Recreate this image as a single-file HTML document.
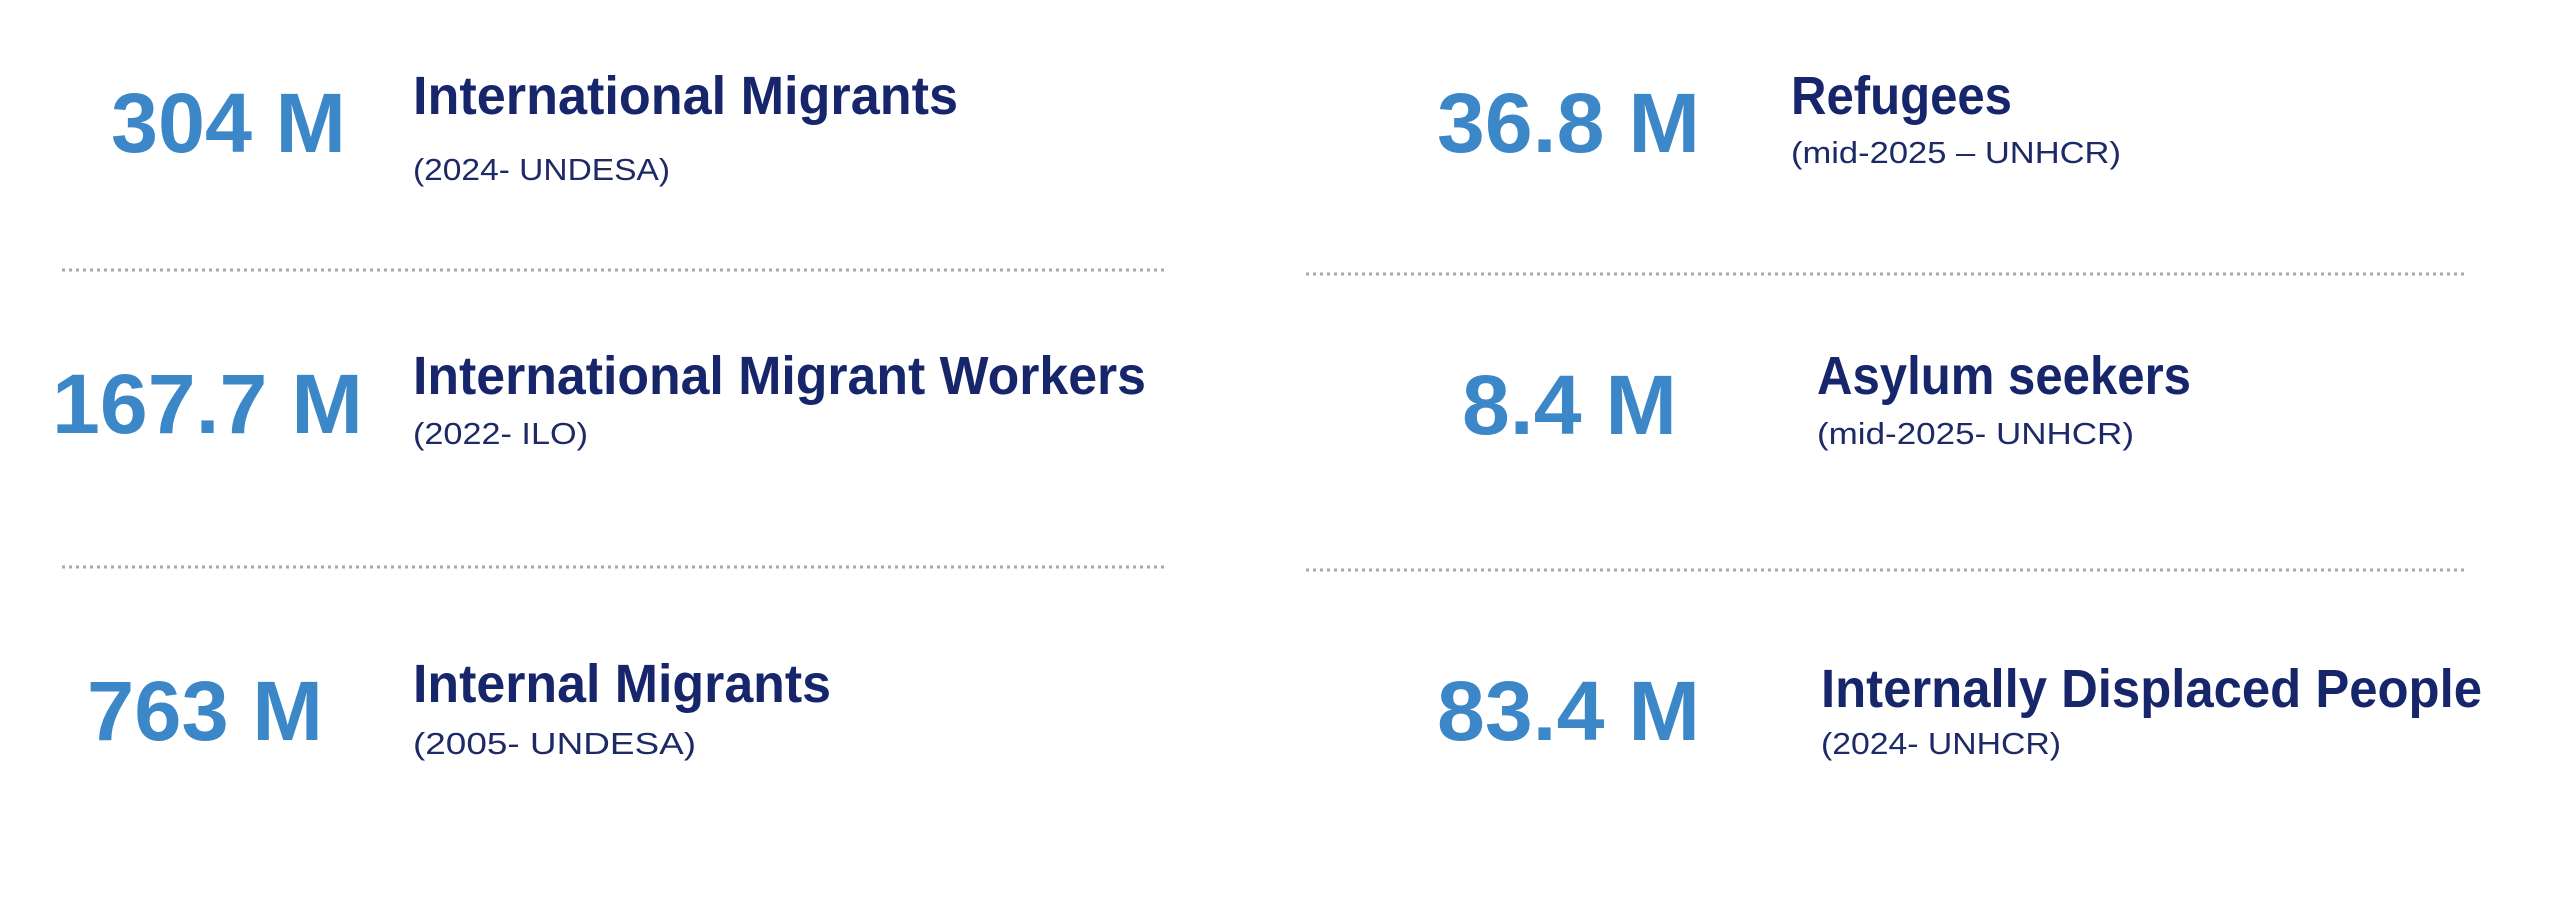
<!DOCTYPE html>
<html><head><meta charset="utf-8"><style>
html,body{margin:0;padding:0;background:#fff;width:2560px;height:921px;overflow:hidden}
svg{display:block}
.n{font-family:"Liberation Sans",sans-serif;font-weight:bold;font-size:84px;fill:#3b87c7}
.t{font-family:"Liberation Sans",sans-serif;font-weight:bold;font-size:54px;fill:#17266b}
.s{font-family:"Liberation Sans",sans-serif;font-size:31px;fill:#1d2a66}
line{stroke:#a8a8a8;stroke-width:3;stroke-dasharray:3 4}
</style></head><body>
<svg width="2560" height="921" viewBox="0 0 2560 921">
<text class="n" x="111" y="152" textLength="235" lengthAdjust="spacingAndGlyphs">304 M</text>
<text class="t" x="413" y="114" textLength="545" lengthAdjust="spacingAndGlyphs">International Migrants</text>
<text class="s" x="413" y="180" textLength="257" lengthAdjust="spacingAndGlyphs">(2024- UNDESA)</text>
<line x1="62" y1="270" x2="1164" y2="270"/>
<text class="n" x="52" y="433" textLength="311" lengthAdjust="spacingAndGlyphs">167.7 M</text>
<text class="t" x="413" y="394" textLength="733" lengthAdjust="spacingAndGlyphs">International Migrant Workers</text>
<text class="s" x="413" y="444" textLength="175" lengthAdjust="spacingAndGlyphs">(2022- ILO)</text>
<line x1="62" y1="567" x2="1164" y2="567"/>
<text class="n" x="87" y="740" textLength="236" lengthAdjust="spacingAndGlyphs">763 M</text>
<text class="t" x="413" y="702" textLength="418" lengthAdjust="spacingAndGlyphs">Internal Migrants</text>
<text class="s" x="413" y="754" textLength="283" lengthAdjust="spacingAndGlyphs">(2005- UNDESA)</text>

<text class="n" x="1437" y="152" textLength="263" lengthAdjust="spacingAndGlyphs">36.8 M</text>
<text class="t" x="1791" y="114" textLength="221" lengthAdjust="spacingAndGlyphs">Refugees</text>
<text class="s" x="1791" y="163" textLength="330" lengthAdjust="spacingAndGlyphs">(mid-2025 – UNHCR)</text>
<line x1="1306" y1="274" x2="2467" y2="274"/>
<text class="n" x="1462" y="434" textLength="215" lengthAdjust="spacingAndGlyphs">8.4 M</text>
<text class="t" x="1817" y="394" textLength="374" lengthAdjust="spacingAndGlyphs">Asylum seekers</text>
<text class="s" x="1817" y="444" textLength="317" lengthAdjust="spacingAndGlyphs">(mid-2025- UNHCR)</text>
<line x1="1306" y1="570" x2="2467" y2="570"/>
<text class="n" x="1437" y="740" textLength="263" lengthAdjust="spacingAndGlyphs">83.4 M</text>
<text class="t" x="1821" y="707" textLength="661" lengthAdjust="spacingAndGlyphs">Internally Displaced People</text>
<text class="s" x="1821" y="754" textLength="240" lengthAdjust="spacingAndGlyphs">(2024- UNHCR)</text>
</svg>
</body></html>
